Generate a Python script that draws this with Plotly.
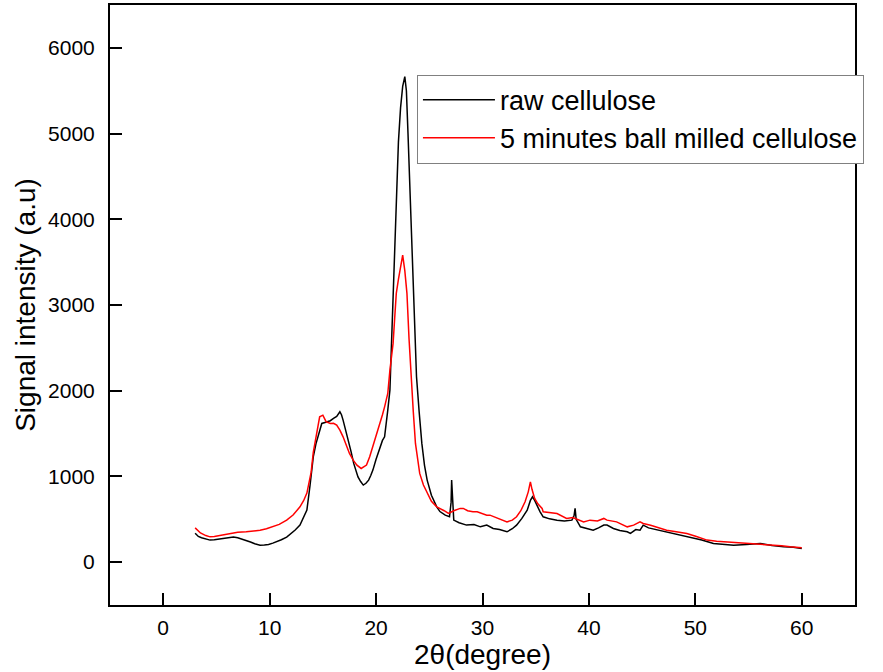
import plotly.graph_objects as go

# raw cellulose (2theta, intensity)
raw_x = [3.0, 3.3, 3.6, 4.0, 4.4, 4.8, 5.2, 5.6, 6.0, 6.3, 6.6, 7.0, 7.4, 7.8, 8.2, 8.6, 9.1, 9.5, 9.9,
         10.3, 10.7, 11.1, 11.6, 12.0, 12.4, 12.85, 13.2, 13.5, 13.8, 14.1, 14.35, 14.6, 14.9, 15.2, 15.4,
         15.7, 16.0, 16.3, 16.6, 16.75, 16.9, 17.15, 17.4, 17.65, 17.9, 18.1, 18.3, 18.55, 18.8, 19.05,
         19.3, 19.5, 19.7, 20.0, 20.4, 20.6, 20.8, 20.95, 21.1, 21.3, 21.45, 21.6, 21.75, 21.9, 22.1,
         22.3, 22.5, 22.7, 22.85, 23.0, 23.2, 23.35, 23.5, 23.65, 23.8, 24.05, 24.3, 24.55, 24.8, 25.2,
         25.7, 26.0, 26.5, 26.9, 27.05, 27.1, 27.2, 27.3, 27.8, 28.5, 29.2, 29.8, 30.4, 31.0, 31.6,
         32.3, 32.8, 33.2, 33.7, 34.2, 34.5, 34.7, 34.9, 35.1, 35.4, 35.7, 36.3, 37.0, 37.7, 38.4,
         38.6, 38.7, 38.8, 39.2, 39.8, 40.4, 40.9, 41.4, 41.7, 42.3, 42.9, 43.6, 43.9, 44.4, 44.8,
         45.1, 45.6, 46.3, 47.3, 48.4, 49.5, 50.6, 51.7, 52.6, 53.6, 54.8, 56.1, 57.2, 58.3, 59.2, 60.0]
raw_y = [338, 300, 285, 270, 257, 262, 268, 275, 280, 290, 292, 285, 270, 257, 235, 215, 198, 200, 205,
         222, 240, 262, 292, 330, 375, 432, 520, 607, 900, 1229, 1380, 1502, 1618, 1630, 1637,
         1650, 1677, 1700, 1754, 1720, 1657, 1540, 1424, 1290, 1152, 1060, 995, 940, 899, 920,
         957, 1010, 1074, 1200, 1346, 1420, 1462, 1600, 1774, 2007, 2560, 3136, 3700, 4303, 4900,
         5300, 5550, 5664, 5500, 5000, 4303, 3700, 3136, 2650, 2163, 1750, 1385, 1130, 957, 780,
         645, 590, 548, 529, 700, 957, 600, 490, 460, 432, 440, 412, 432, 393, 380,
         354, 390, 432, 510, 607, 720, 762, 720, 665, 590, 529, 505, 490, 480, 490,
         540, 627, 500, 412, 393, 373, 400, 432, 432, 393, 370, 354, 335, 380, 373,
         432, 400, 380, 354, 325, 296, 258, 218, 205, 198, 205, 218, 195, 179, 175, 160]

# 5 minutes ball milled cellulose
mill_x = [3.0, 3.2, 3.5, 4.0, 4.4, 4.8, 5.2, 5.6, 6.0, 6.6, 7.0, 7.8, 8.4, 9.1, 9.7, 10.3, 10.9, 11.6,
          12.2, 12.85, 13.2, 13.5, 13.9, 14.1, 14.4, 14.7, 15.0, 15.3, 15.7, 16.0, 16.3, 16.6, 16.9,
          17.2, 17.5, 17.85, 18.2, 18.6, 18.85, 19.1, 19.4, 19.7, 20.05, 20.4, 20.6, 20.8, 20.95, 21.1,
          21.3, 21.45, 21.6, 21.75, 21.9, 22.1, 22.3, 22.5, 22.7, 22.9, 23.1, 23.3, 23.5, 23.7, 23.9,
          24.1, 24.45, 24.8, 25.2, 25.7, 26.0, 26.4, 26.8, 27.3, 27.9, 28.2, 28.6, 29.1, 29.5, 30.0,
          30.4, 30.7, 31.5, 32.3, 32.8, 33.2, 33.6, 34.0, 34.3, 34.5, 34.65, 34.9, 35.2, 35.6, 35.7,
          36.3, 37.0, 37.9, 38.5, 39.5, 40.1, 40.8, 41.4, 41.7, 42.6, 43.6, 44.2, 44.8, 45.1, 45.8,
          46.5, 47.3, 48.2, 49.2, 50.1, 51.1, 52.0, 53.0, 54.0, 55.1, 56.2, 57.3, 58.1, 58.9, 59.5, 60.0]
mill_y = [400, 380, 340, 310, 295, 300, 310, 320, 328, 342, 348, 354, 360, 373, 390, 412, 440, 490,
          550, 645, 720, 805, 1050, 1280, 1502, 1696, 1715, 1640, 1618, 1620, 1599, 1540, 1462,
          1360, 1268, 1190, 1132, 1093, 1110, 1132, 1230, 1346, 1490, 1618, 1720, 1812, 1880, 1968,
          2240, 2400, 2552, 2850, 3136, 3300, 3450, 3583, 3400, 3136, 2600, 2124, 1750, 1385, 1180,
          1035, 900, 802, 710, 645, 627, 600, 568, 600, 627, 627, 600, 587, 587, 570,
          548, 548, 510, 470, 490, 529, 600, 704, 820, 937, 850, 743, 680, 627, 587,
          575, 568, 510, 521, 470, 490, 480, 510, 490, 470, 412, 432, 470, 451, 430,
          400, 373, 355, 335, 300, 257, 245, 237, 228, 218, 210, 198, 190, 179, 175, 167]

x_ticks = [0, 10, 20, 30, 40, 50, 60]
y_ticks = [0, 1000, 2000, 3000, 4000, 5000, 6000]

FONT = "Liberation Sans, Arial, sans-serif"

fig = go.Figure()
fig.add_trace(go.Scatter(x=raw_x, y=raw_y, mode="lines", name="raw cellulose",
                         line=dict(color="black", width=1.5)))
fig.add_trace(go.Scatter(x=mill_x, y=mill_y, mode="lines", name="5 minutes ball milled cellulose",
                         line=dict(color="#ff0000", width=1.5)))

axis_common = dict(showline=True, linecolor="black", linewidth=2, mirror=True,
                   ticks="inside", ticklen=12, tickwidth=2, tickcolor="black",
                   showgrid=False, zeroline=False,
                   tickfont=dict(family=FONT, size=21, color="black"))

fig.update_xaxes(range=[-5, 65], tickvals=x_ticks, ticktext=[str(v) for v in x_ticks],
                 title=dict(text="2θ(degree)", font=dict(family=FONT, size=28, color="black"), standoff=0),
                 ticklabelstandoff=3, **axis_common)
fig.update_yaxes(range=[-500, 6500], tickvals=y_ticks, ticktext=[str(v) for v in y_ticks],
                 title=dict(text="Signal intensity (a.u)", font=dict(family=FONT, size=28, color="black"), standoff=4),
                 ticklabelstandoff=9, **axis_common)

fig.update_layout(
    width=883, height=672,
    margin=dict(l=110, r=28, t=5, b=67, autoexpand=False),
    plot_bgcolor="white", paper_bgcolor="white",
    font=dict(family=FONT, color="black"),
    showlegend=True,
    legend=dict(x=0.412, y=0.884, xanchor="left", yanchor="top",
                bgcolor="white", bordercolor="#808080", borderwidth=1,
                font=dict(family=FONT, size=27, color="black"),
                tracegroupgap=0, itemwidth=72),
)

fig.write_html("out.html", config={"displayModeBar": False})

# remove the browser's default page margin so the figure sits at the top-left corner
with open("out.html", "r", encoding="utf-8") as f:
    html = f.read()
html = html.replace("<body>", '<body style="margin:0;padding:0">', 1)
with open("out.html", "w", encoding="utf-8") as f:
    f.write(html)
